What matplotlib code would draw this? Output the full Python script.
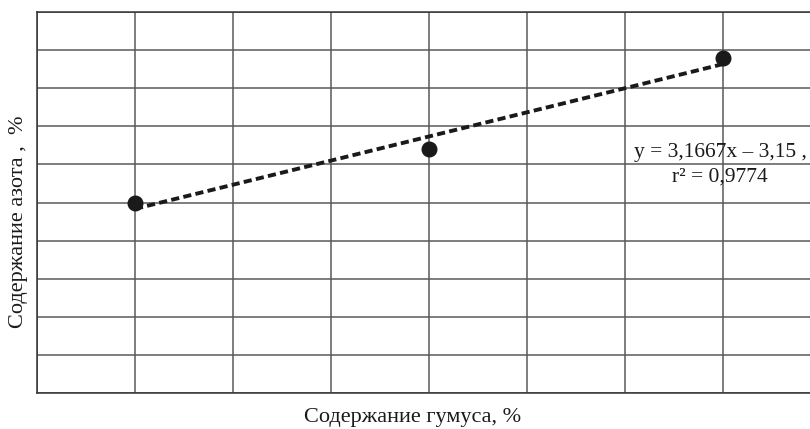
import numpy as np
import matplotlib.pyplot as plt

# humus content (%) and nitrogen content (%)
humus = [1.30, 1.42, 1.54]
nitrogen = [1.00, 1.28, 1.76]

x_label = "Содержание гумуса, %"
y_label = "Содержание азота ,  %"

plt.rcParams['font.family'] = ['Liberation Serif', 'DejaVu Serif']

fig = plt.figure(figsize=(8.1, 4.29), dpi=100)
ax = fig.add_axes([37 / 810, 36 / 429, 773 / 810, 381 / 429])

x_step = 0.04
y_step = 0.2
x_min = humus[0] - x_step
ax.set_xlim(x_min, x_min + x_step * 773 / 98)
ax.set_ylim(0, 2.0)
ax.set_xticks(x_min + x_step * np.arange(8))
ax.set_yticks(y_step * np.arange(11))
ax.tick_params(length=0, labelbottom=False, labelleft=False)
ax.grid(True, color='#5a5a5a', lw=1.1)
ax.set_axisbelow(True)

for side in ['left', 'bottom', 'top']:
    ax.spines[side].set_color('#333333')
    ax.spines[side].set_linewidth(1.1)
ax.spines['right'].set_visible(False)

# linear trend
k, b = np.polyfit(humus, nitrogen, 1)
xs = np.array([humus[0], humus[-1]])
ax.plot(xs, k * xs + b, color='#1a1a1a', lw=2.8, dashes=(2.1, 1.1), zorder=3)
ax.plot(humus, nitrogen, 'o', color='#1a1a1a', ms=10.5, zorder=4)

pred = k * np.array(humus) + b
r2 = 1 - np.sum((np.array(nitrogen) - pred) ** 2) / np.sum((np.array(nitrogen) - np.mean(nitrogen)) ** 2)
eq1 = f"y = {k:.4f}x – {abs(b):.2f} ,".replace('.', ',')
eq2 = f"r² = {r2:.4f}".replace('.', ',')
ax.text((720 - 37) / 773, (393 - 152) / 381, eq1, transform=ax.transAxes,
        ha='center', va='center', fontsize=15.5, color='#1a1a1a')
ax.text((720 - 37) / 773, (393 - 177) / 381, eq2, transform=ax.transAxes,
        ha='center', va='center', fontsize=15.5, color='#1a1a1a')

ax.set_xlabel(x_label, fontsize=16, color='#1a1a1a')
ax.xaxis.set_label_coords((413 - 37) / 773, -(408 - 393) / 381)
ax.set_ylabel(y_label, fontsize=16, color='#1a1a1a')
ax.yaxis.set_label_coords(-(37 - 28) / 773, (393 - 222) / 381)

fig.savefig('out.png', dpi=100)
